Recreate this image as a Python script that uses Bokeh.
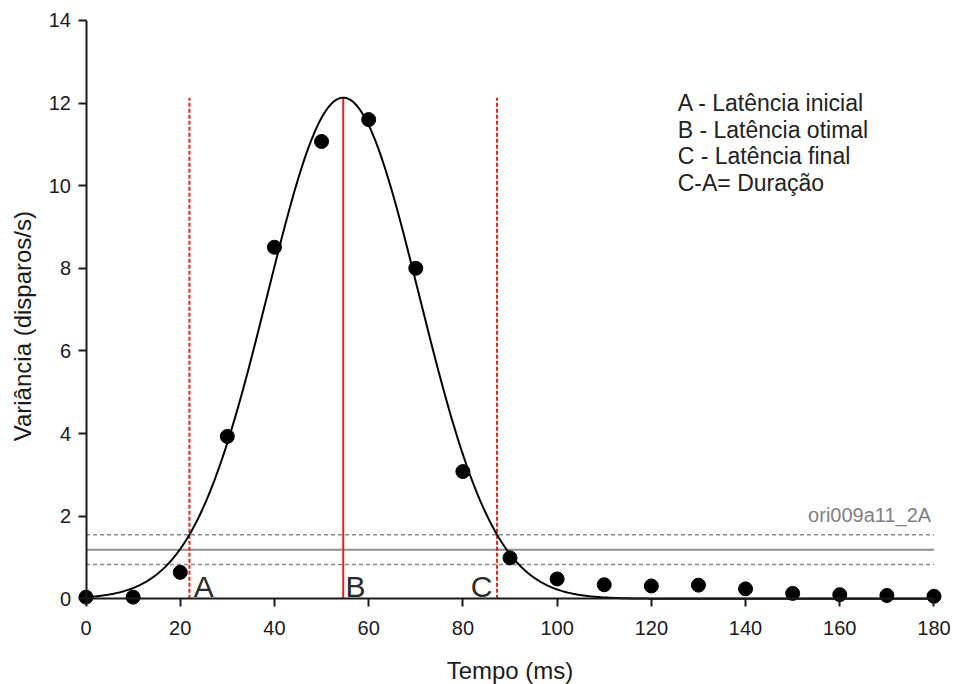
import numpy as np
from math import pi
from bokeh.plotting import figure
from bokeh.models import Range1d, FixedTicker, ColumnDataSource
from bokeh.core.properties import value
from bokeh.embed import file_html
from bokeh.resources import INLINE

# Measured response variance per time bin
tempo_ms = [0, 10, 20, 30, 40, 50, 60, 70, 80, 90, 100, 110, 120, 130, 140, 150, 160, 170, 180]
variancia = [0.04, 0.04, 0.64, 3.93, 8.51, 11.07, 11.6, 8.0, 3.08, 0.99, 0.48, 0.34, 0.31, 0.33, 0.24, 0.13, 0.10, 0.08, 0.06]

# Gaussian fit parameters (amplitude, centre, width)
fit_amp = 12.13
fit_mu = 54.6
fit_sigma = 16.1

# Baseline (mean) and threshold band
baseline_levels = [0.83, 1.19, 1.55]
baseline_styles = ["dashed", "solid", "dashed"]

# Latencies: initial (A), optimal (B), final (C)
latency_names = ["A", "B", "C"]
latency_ms = [21.95, 54.6, 87.25]

legend_lines = ["A - Latência inicial", "B - Latência otimal", "C - Latência final", "C-A= Duração"]
cell_name = "ori009a11_2A"
x_title = "Tempo (ms)"
y_title = "Variância (disparos/s)"

x_ticks = [0, 20, 40, 60, 80, 100, 120, 140, 160, 180]
y_ticks = [0, 2, 4, 6, 8, 10, 12, 14]

FONT = "Liberation Sans"
INK = "#1a1a1a"

# The frame spans the whole canvas; the axes sit at x=0 / y=0 inside it,
# so their labels and the titles are never clipped.
p = figure(width=953, height=684,
           x_range=Range1d(-18.15, 184.14), y_range=Range1d(-2.075, 14.483),
           output_backend="svg", toolbar_location=None,
           min_border_left=0, min_border_right=0,
           min_border_top=0, min_border_bottom=0)
p.grid.visible = False
p.outline_line_color = None
p.background_fill_color = "white"
p.border_fill_color = "white"

for ax, ticks, bnds, stand in ((p.xaxis, x_ticks, (0, 180), 14), (p.yaxis, y_ticks, (0, 14), 7)):
    ax.ticker = FixedTicker(ticks=ticks)
    ax.bounds = bnds
    ax.fixed_location = 0
    ax.axis_line_width = 2
    ax.axis_line_color = INK
    ax.major_tick_line_width = 2
    ax.major_tick_line_color = INK
    ax.major_tick_out = 8
    ax.major_tick_in = 0
    ax.minor_tick_line_color = None
    ax.major_label_text_font = FONT
    ax.major_label_text_font_size = "20px"
    ax.major_label_text_color = INK
    ax.major_label_standoff = stand

# Baseline and threshold lines
for lvl, style in zip(baseline_levels, baseline_styles):
    if style == "solid":
        p.line([0, 180], [lvl, lvl], line_color="#8f8f8f", line_width=2)
    else:
        p.line([0, 180], [lvl, lvl], line_color="#8a8a8a", line_width=1.6, line_dash="4 3")

# Latency markers
for name, lat in zip(latency_names, latency_ms):
    if name == "B":
        p.line([lat, lat], [0, fit_amp], line_color="#e2231a", line_width=2)
    else:
        p.line([lat, lat], [0, fit_amp], line_color="#e2231a", line_width=2, line_dash="4 2")

# Gaussian fit
xs = np.linspace(0, 180, 901)
ys = fit_amp * np.exp(-((xs - fit_mu) ** 2) / (2 * fit_sigma ** 2))
p.line(xs, ys, line_color="black", line_width=2)

# Data points
p.scatter(tempo_ms, variancia, size=14, color="black")

# A / B / C letters beside their markers
letter_x = [latency_ms[0] + 0.9, latency_ms[1] + 0.5, latency_ms[2] - 1.0]
letter_align = ["left", "left", "right"]
p.text(x=letter_x, y=[0.30] * 3, text=latency_names, text_align=letter_align,
       text_baseline="middle", text_font=value(FONT), text_font_size="30px",
       text_color="#2a2a2a")

# Legend block
leg_src = ColumnDataSource(dict(x=[125.6] * len(legend_lines),
                                y=[12.0 - 0.6415 * i for i in range(len(legend_lines))],
                                t=legend_lines))
p.text(x="x", y="y", text="t", source=leg_src, text_align="left", text_baseline="middle",
       text_font=value(FONT), text_font_size="23px", text_color="#222222")

# Cell identifier
p.text(x=[179.4], y=[2.03], text=[cell_name], text_align="right", text_baseline="middle",
       text_font=value(FONT), text_font_size="20px", text_color="#808080")

# Axis titles
p.text(x=[90], y=[-1.736], text=[x_title], text_align="center", text_baseline="middle",
       text_font=value(FONT), text_font_size="24px", text_color=INK)
p.text(x=[-13.5], y=[6.6], text=[y_title], angle=pi / 2, text_align="center",
       text_baseline="middle", text_font=value(FONT), text_font_size="24px",
       text_color=INK)

open("out.html", "w").write(file_html(p, INLINE))
